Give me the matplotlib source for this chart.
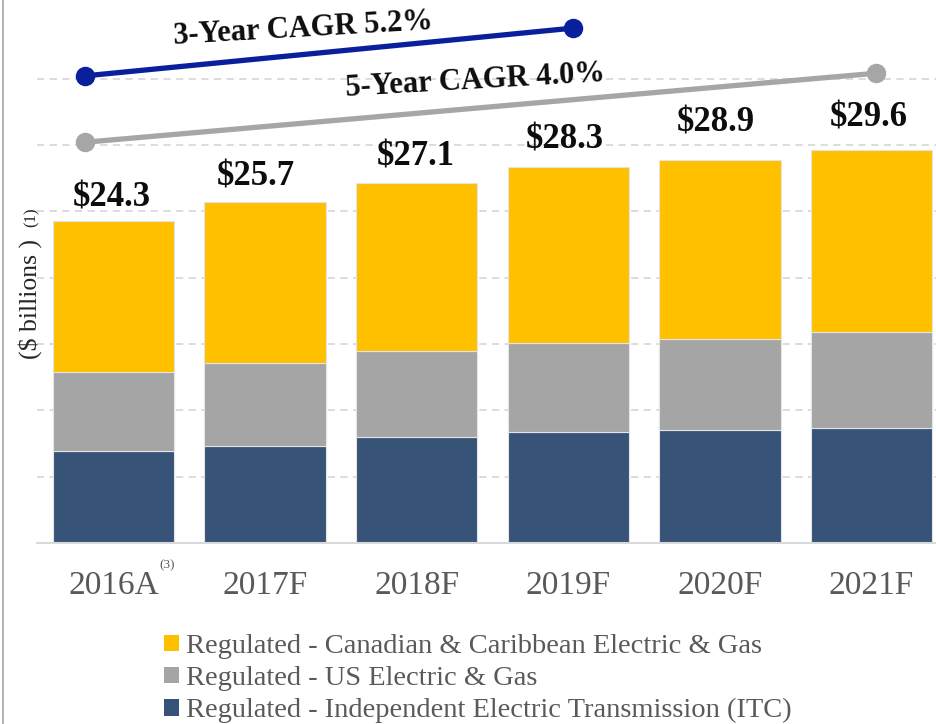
import matplotlib
matplotlib.use("Agg")
import matplotlib.pyplot as plt
from matplotlib.patches import Patch
from matplotlib.lines import Line2D

# ---------------- data ----------------
years = ["2016A", "2017F", "2018F", "2019F", "2020F", "2021F"]
itc = [6.9, 7.3, 8.0, 8.4, 8.5, 8.7]
us = [6.0, 6.3, 6.5, 6.7, 6.9, 7.2]
canadian = [11.4, 12.1, 12.6, 13.2, 13.5, 13.7]
totals = [24.3, 25.7, 27.1, 28.3, 28.9, 29.6]
total_labels = ["$24.3", "$25.7", "$27.1", "$28.3", "$28.9", "$29.6"]

series_names = ["Regulated - Canadian & Caribbean Electric & Gas",
                "Regulated - US Electric & Gas",
                "Regulated - Independent Electric Transmission (ITC)"]

cagr3_x = [-0.19, 3.03]
cagr3_y = [35.2, 38.8]
cagr5_x = [-0.19, 5.03]
cagr5_y = [30.2, 35.4]
cagr3_label = "3-Year CAGR 5.2%"
cagr5_label = "5-Year CAGR 4.0%"
grid_values = [5, 10, 15, 20, 25, 30, 35]

# ---------------- layout / style ----------------
label_offsets_pt = [(-1, 10), (-6.5, 11.5), (-1, 13), (-2.5, 13.7), (-3.2, 19.9), (-1.8, 17.3)]
cagr3_text_pos = (1.25, 38.75)
cagr5_text_pos = (2.385, 34.8)

C_YEL = "#FFC000"
C_GRY = "#A5A5A5"
C_NAV = "#385378"
C_BLUE = "#0A1F9C"
C_LGRY = "#A6A6A6"
C_TXT = "#595959"

plt.rcParams["font.family"] = ["Liberation Serif", "DejaVu Serif"]

fig = plt.figure(figsize=(9.36, 7.24), dpi=100)
ax = fig.add_axes([37 / 936, 181 / 724, 1 - 37 / 936, 543 / 724])
ax.set_xlim(-0.5046, 5.4255)
ax.set_ylim(0, 40.92)

x = list(range(len(years)))
w = 0.8
edge = dict(edgecolor="#E4E4E4", linewidth=0.8)
ax.bar(x, itc, w, color=C_NAV, **edge)
ax.bar(x, us, w, bottom=itc, color=C_GRY, **edge)
bottom2 = [a + b for a, b in zip(itc, us)]
ax.bar(x, canadian, w, bottom=bottom2, color=C_YEL, **edge)

ax.set_axisbelow(True)
ax.set_yticks(grid_values)
ax.yaxis.grid(True, linestyle=(0, (4, 3)), color="#D9D9D9", linewidth=1.3)
ax.tick_params(axis="y", length=0, labelleft=False)
for s in ["top", "right", "left"]:
    ax.spines[s].set_visible(False)
ax.spines["bottom"].set_color("#D9D9D9")
ax.spines["bottom"].set_linewidth(1.5)

ax.set_xticks(x)
ax.set_xticklabels(years, fontsize=24, color=C_TXT)
ax.tick_params(axis="x", length=0, pad=20)

# superscript on first tick label
ax.annotate("(3)", xy=(0, 0), xycoords=("data", "axes fraction"),
            xytext=(38.5, -16), textcoords="offset points",
            ha="center", va="center", fontsize=9.5, color=C_TXT)

# total labels
for xi, t, lab, (dx, dy) in zip(x, totals, total_labels, label_offsets_pt):
    ax.annotate(lab, xy=(xi, t), xytext=(dx, dy), textcoords="offset points",
                ha="center", va="baseline", fontsize=25, fontweight="bold",
                color="#0D0D0D")

# CAGR lines
ax.plot(cagr3_x, cagr3_y, color=C_BLUE, lw=3.8, marker="o", ms=13,
        solid_capstyle="butt", clip_on=False, zorder=5)
ax.plot(cagr5_x, cagr5_y, color=C_LGRY, lw=3.8, marker="o", ms=13,
        solid_capstyle="butt", clip_on=False, zorder=5)
ax.text(*cagr3_text_pos, cagr3_label, rotation=3.3, rotation_mode="anchor",
        ha="center", va="center", fontsize=22, fontweight="bold", color="#0D0D0D")
ax.text(*cagr5_text_pos, cagr5_label, rotation=3.3, rotation_mode="anchor",
        ha="center", va="center", fontsize=22, fontweight="bold", color="#0D0D0D")

# y label
fig.text(30 / 936, 1 - 299 / 724, "($ billions )", rotation=90, ha="center",
         va="center", fontsize=18.5, color="#262626")
fig.text(32 / 936, 1 - 217 / 724, "(1)", rotation=90, ha="center",
         va="center", fontsize=12, color="#262626")

# legend
handles = [Patch(facecolor=C_YEL), Patch(facecolor=C_GRY), Patch(facecolor=C_NAV)]
fig.legend(handles, series_names, loc="upper left",
           bbox_to_anchor=(164 / 936, 1 - 634 / 724), frameon=False,
           fontsize=20.5, handlelength=0.52, handleheight=0.52,
           handletextpad=0.25, labelspacing=0.25, borderpad=0, borderaxespad=0,
           labelcolor=C_TXT)

# left border line
fig.add_artist(Line2D([3 / 936, 3 / 936], [0, 1], color="#A6A6A6", lw=1.2))

fig.savefig("out.png", dpi=100)
